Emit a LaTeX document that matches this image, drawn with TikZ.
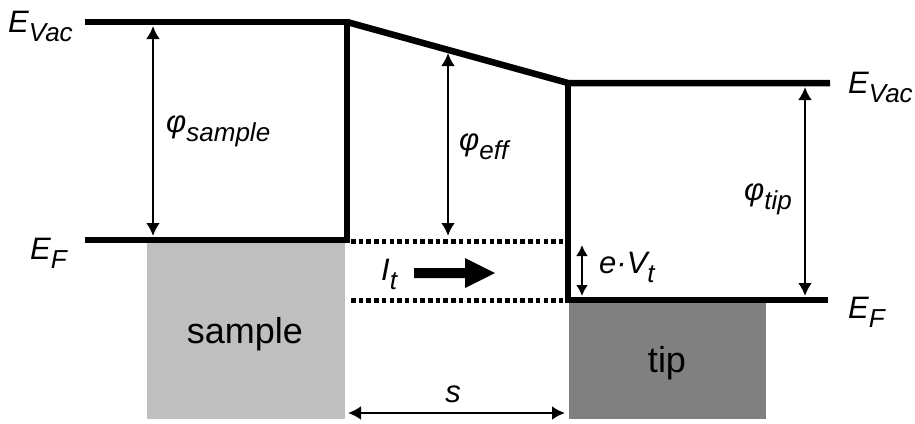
\documentclass[tikz,border=0pt]{standalone}
\usepackage{fontspec}
\setmainfont{Liberation Sans}
\usetikzlibrary{arrows.meta}
\newcommand{\lowsub}[1]{\raisebox{-9pt}{\fontsize{26}{26}\selectfont\itshape #1}}
\begin{document}
\begin{tikzpicture}[x=1pt,y=-1pt,
  band/.style={line width=6.5pt, line join=miter},
  dots/.style={line width=5pt, dash pattern=on 4.5pt off 3.2pt},
  dim/.style={line width=2.8pt, {Latex[length=13pt,width=14pt]}-{Latex[length=13pt,width=14pt]}},
  lbl/.style={font=\fontsize{31}{31}\selectfont\itshape, inner sep=0pt, anchor=base west},
  big/.style={font=\fontsize{36}{36}\selectfont, inner sep=0pt, anchor=base},
]
\useasboundingbox (0,0) rectangle (915,423);
% metal blocks
\fill[black!25] (147,243) rectangle (345,419);
\fill[black!50] (569,303) rectangle (766,419);
% key points
\coordinate (sv0) at (85,22);
\coordinate (sv1) at (347,22);
\coordinate (sf0) at (85,240);
\coordinate (sf1) at (347,240);
\coordinate (tv0) at (568,83);
\coordinate (tv1) at (830,83);
\coordinate (tf0) at (568,300);
\coordinate (tf1) at (828,300);
% bands
\draw[band] (sv0) -- (sv1) -- (sf1) -- (sf0);
\draw[band] (sv1) -- (tv0) -- (tv1);
\draw[band] (tv0) -- (tf0) -- (tf1);
% dotted continuation
\coordinate (d1a) at (351,241); \coordinate (d1b) at (565,241);
\coordinate (d2a) at (351,300); \coordinate (d2b) at (565,300);
\draw[dots] (d1a) -- (d1b);
\draw[dots] (d2a) -- (d2b);
% dimension arrows
\coordinate (ps0) at (153,26); \coordinate (ps1) at (153,236);
\coordinate (pe0) at (448,53); \coordinate (pe1) at (448,236);
\coordinate (pt0) at (805,87); \coordinate (pt1) at (805,296);
\coordinate (ev0) at (582,245); \coordinate (ev1) at (582,296);
\coordinate (s0) at (348,413); \coordinate (s1) at (565,413);
\draw[dim] (ps0) -- (ps1);
\draw[dim] (pe0) -- (pe1);
\draw[dim] (pt0) -- (pt1);
\draw[line width=2.5pt, {Latex[length=11pt,width=12pt]}-{Latex[length=11pt,width=12pt]}] (ev0) -- (ev1);
\draw[dim] (s0) -- (s1);
% current arrow
\fill (414,268) -- (465,268) -- (465,258) -- (495,273) -- (465,288) -- (465,278) -- (414,278) -- cycle;
% labels
\node[lbl] (evl) at (8,32) {E\lowsub{Vac}};
\node[lbl] (efl) at (30,259) {E\lowsub{F}};
\node[lbl] (phis) at (166,132) {φ\lowsub{sample}};
\node[lbl] (phie) at (459,150) {φ\lowsub{eff}};
\node[lbl] (it) at (381,280) {I\lowsub{t}};
\node[lbl] (ev) at (599,273) {e·V\lowsub{t}};
\node[lbl] (phit) at (744,200) {φ\lowsub{tip}};
\node[lbl] (evr) at (848,93) {E\lowsub{Vac}};
\node[lbl] (efr) at (848,318) {E\lowsub{F}};
\node[big] (samp) at (245,343) {sample};
\node[big] (tip) at (667,372) {tip};
\node[big, font=\fontsize{31}{31}\selectfont\itshape] (s) at (453,402) {s};
\end{tikzpicture}
\end{document}
